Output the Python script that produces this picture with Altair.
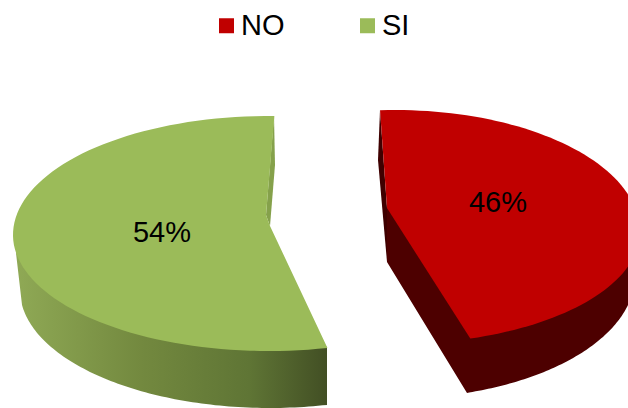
import numpy as np
import pandas as pd
import altair as alt

# Survey result shown as an exploded 3D pie
categories = ["NO", "SI"]
shares = [46, 54]
labels = ["46%", "54%"]
colors = ["#C00000", "#9BBB59"]

W, H = 628, 408


def arc(cx, cy, rx, ry_up, ry_low, a0, a1, n=90):
    """Points along a flattened ellipse, angles in degrees (counter-clockwise)."""
    t = np.radians(np.linspace(a0, a1, n))
    s = np.sin(t)
    return list(zip(cx + rx * np.cos(t), cy - np.where(s > 0, ry_up, ry_low) * s))


def frame(points, name):
    return pd.DataFrame(
        {"x": [p[0] for p in points], "y": [p[1] for p in points],
         "i": range(len(points)), "Respuesta": name}
    )


# Top face of each slice: its sweep comes from the share
no_start = 93.5
no_end = no_start - shares[0] * 3.6
si_start = 88.8
si_end = si_start + shares[1] * 3.6

no_face = arc(395, 232, 245, 122, 112, no_start, no_end) + [(387, 208)]
si_face = arc(269, 235, 256, 119, 116, si_start, si_end) + [(270, 226), (266, 215)]

# Side walls, each painted underneath its face
no_wall = [(387, 208), (387, 262), (467, 393)] + arc(395, 275.5, 240, 123, 123, -72, 0) + [(640, 232)]
no_cut = [(380, 110), (378, 160), (387, 262), (387, 208)]
si_wall = [(16, 253)] + arc(270, 290, 250, 118, 118, 187.3, 283.2) + [(327, 405), (327, 347), (250, 300)]
si_cut = [(274, 116), (275, 165), (270, 226), (266, 215)]

x = alt.X("x:Q", scale=alt.Scale(domain=[0, W], nice=False, zero=False), axis=None)
y = alt.Y("y:Q", scale=alt.Scale(domain=[H, 0], nice=False, zero=False), axis=None)
order = alt.Order("i:Q")


def polygon(points, fill):
    return (
        alt.Chart(frame(points, "wall"))
        .mark_line(interpolate="linear-closed", fill=fill, strokeWidth=0, clip=True)
        .encode(x=x, y=y, order=order)
    )


si_shade = alt.LinearGradient(
    gradient="linear", x1=0, x2=1, y1=0, y2=0,
    stops=[
        alt.GradientStop(color="#8FA955", offset=0),
        alt.GradientStop(color="#73893F", offset=0.4),
        alt.GradientStop(color="#5F7535", offset=0.75),
        alt.GradientStop(color="#424F24", offset=1),
    ],
)

faces = (
    alt.Chart(pd.concat([frame(no_face, categories[0]), frame(si_face, categories[1])]))
    .mark_line(interpolate="linear-closed", strokeWidth=0, clip=True)
    .encode(
        x=x,
        y=y,
        order=order,
        fill=alt.Fill(
            "Respuesta:N",
            scale=alt.Scale(domain=categories, range=colors),
            legend=alt.Legend(
                title=None,
                orient="none",
                legendX=212,
                legendY=11,
                direction="horizontal",
                symbolType="square",
                symbolSize=225,
                symbolStrokeWidth=0,
                labelFont="Liberation Sans",
                labelFontSize=29,
                labelColor="#000",
                labelOffset=0,
                columnPadding=68,
                padding=0,
            ),
        ),
    )
)

text = (
    alt.Chart(pd.DataFrame({"label": labels, "x": [498, 162], "y": [203, 233]}))
    .mark_text(font="Liberation Sans", fontSize=29, color="#000")
    .encode(x=x, y=y, text="label:N")
)

chart = (
    alt.layer(
        polygon(no_cut, "#3F0000"),
        polygon(no_wall, "#4D0000"),
        polygon(si_cut, "#85A14B"),
        polygon(si_wall, si_shade),
        faces,
        text,
    )
    .properties(width=W, height=H, padding=0, background="#FFFFFF", autosize=alt.AutoSizeParams(type="none"))
    .configure_view(stroke=None)
)

chart.save("out.html", embed_options={"renderer": "svg", "actions": False})
